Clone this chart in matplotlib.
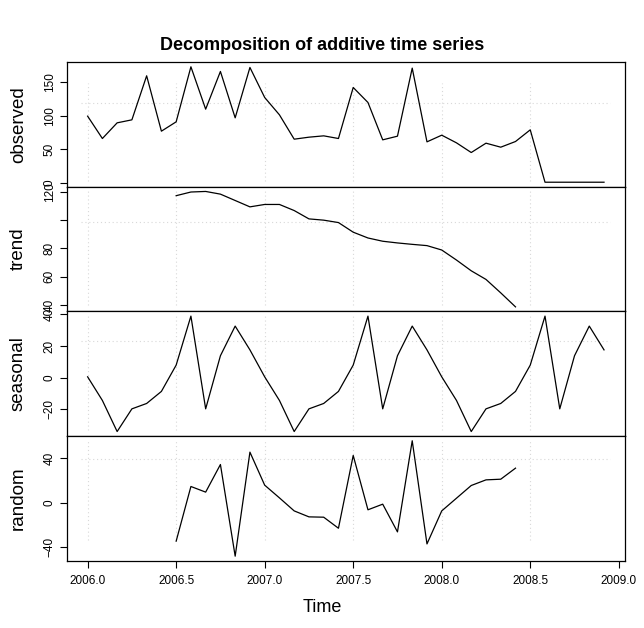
import numpy as np
import matplotlib.pyplot as plt

plt.rcParams['font.family'] = ['Liberation Sans', 'DejaVu Sans']

# ---------------- data (monthly, 2006.0 .. 2008.917) ----------------
start_year = 2006
freq = 12

observed = [99.5, 66, 89.5, 94, 160, 77, 91, 173.5, 110, 166.5, 97, 172.5,
            127.5, 101.5, 65, 68, 70, 66, 142.5, 120, 64, 69.5, 171.5, 61,
            71, 59.5, 45, 59, 53, 61.5, 79, 0.5, 0.5, 0.5, 0.5, 0.5]

# trend / random only exist from month 7 to month 30 (moving average)
trend = [117.2, 119.8, 120.2, 118.3, 113.8, 109.3, 111, 111, 106.7, 100.8, 99.9, 98.2,
         91.4, 87.3, 85, 83.8, 82.8, 81.9, 78.8, 71.7, 64.1, 58, 48.5, 38.6]

seasonal = [0.6, -14.3, -33.9, -19.6, -16.2, -8.6, 8, 38.9, -19.6, 13.9, 32.6, 17.6,
            0.6, -14.3, -33.9, -19.6, -16.2, -8.6, 8, 38.9, -19.6, 13.9, 32.6, 17.6,
            0.6, -14.3, -33.9, -19.6, -16.2, -8.6, 8, 38.9, -19.6, 13.9, 32.6, 17.6]

random_part = [-35, 14.5, 9.4, 34.4, -48.6, 45.6, 15.7, 4.2, -7.6, -13, -13.3, -23.3,
               42.6, -6.6, -1.5, -26.6, 55.9, -37.5, -7.6, 3.9, 15.4, 20.5, 21.1, 31.1]

panel_names = ['observed', 'trend', 'seasonal', 'random']
panel_ticks = [[0, 50, 100, 150], [40, 60, 80, 100, 120], [-20, 0, 20, 40], [-40, 0, 40]]
panel_ticklabels = [['0', '50', '100', '150'], ['40', '60', '80', '', '120'],
                    ['\u221220', '0', '20', '40'], ['\u221240', '0', '40']]
hgrid_values = [119, 98.5, 23.5, 39.5]          # the odd dotted horizontal line in each panel
vgrid_span = [(0.05, 0.83), (0.05, 0.97), (0.05, 0.97), (0.17, 0.97)]
xticks = [2006.0, 2006.5, 2007.0, 2007.5, 2008.0, 2008.5, 2009.0]

t = start_year + np.arange(len(observed)) / freq
t_mid = t[6:6 + len(trend)]
series = [(t, observed), (t_mid, trend), (t, seasonal), (t_mid, random_part)]

# ---------------- figure ----------------
fig, axes = plt.subplots(4, 1, figsize=(6.44, 6.28), dpi=100, sharex=True)
fig.subplots_adjust(left=0.104, right=0.970, top=0.901, bottom=0.107, hspace=0)

span = t[-1] - t[0]
xlim = (t[0] - 0.04 * span, t[-1] + 0.04 * span)

for i, ax in enumerate(axes):
    x, y = series[i]
    ax.plot(x, y, color='black', lw=0.9)
    lo, hi = np.min(y), np.max(y)
    ax.set_ylim(lo - 0.04 * (hi - lo), hi + 0.04 * (hi - lo))
    ax.set_xlim(*xlim)

    # faint dotted grid
    for xv in xticks[:-1]:
        ax.axvline(xv, ymin=vgrid_span[i][0], ymax=vgrid_span[i][1],
                   color='#d8d8d8', lw=0.8, ls=(0, (1, 2.5)), zorder=0)
    ax.hlines(hgrid_values[i], 2005.96, 2008.95, color='#d8d8d8', lw=0.8,
              ls=(0, (1, 2.5)), zorder=0)

    ax.set_yticks(panel_ticks[i])
    ax.set_yticklabels(panel_ticklabels[i], rotation=90, va='center')
    ax.tick_params(axis='y', direction='out', length=5, width=0.8, labelsize=8.5, pad=3)
    ax.set_ylabel(panel_names[i], fontsize=13.5)
    ax.yaxis.set_label_coords(-0.072, 0.5)
    for sp in ax.spines.values():
        sp.set_linewidth(0.9)
        sp.set_color('black')
    if i < 3:
        ax.tick_params(axis='x', bottom=False, labelbottom=False)

axes[-1].set_xticks(xticks)
axes[-1].set_xticklabels(['%.1f' % v for v in xticks])
axes[-1].tick_params(axis='x', direction='out', length=5, width=0.8, labelsize=8.5, pad=5)

fig.text(0.5, 1 - 46 / 628, 'Decomposition of additive time series',
         ha='center', va='center', fontsize=13, fontweight='bold')
fig.text(0.5, 1 - 608 / 628, 'Time', ha='center', va='center', fontsize=13)

plt.savefig('out.png', dpi=100)
